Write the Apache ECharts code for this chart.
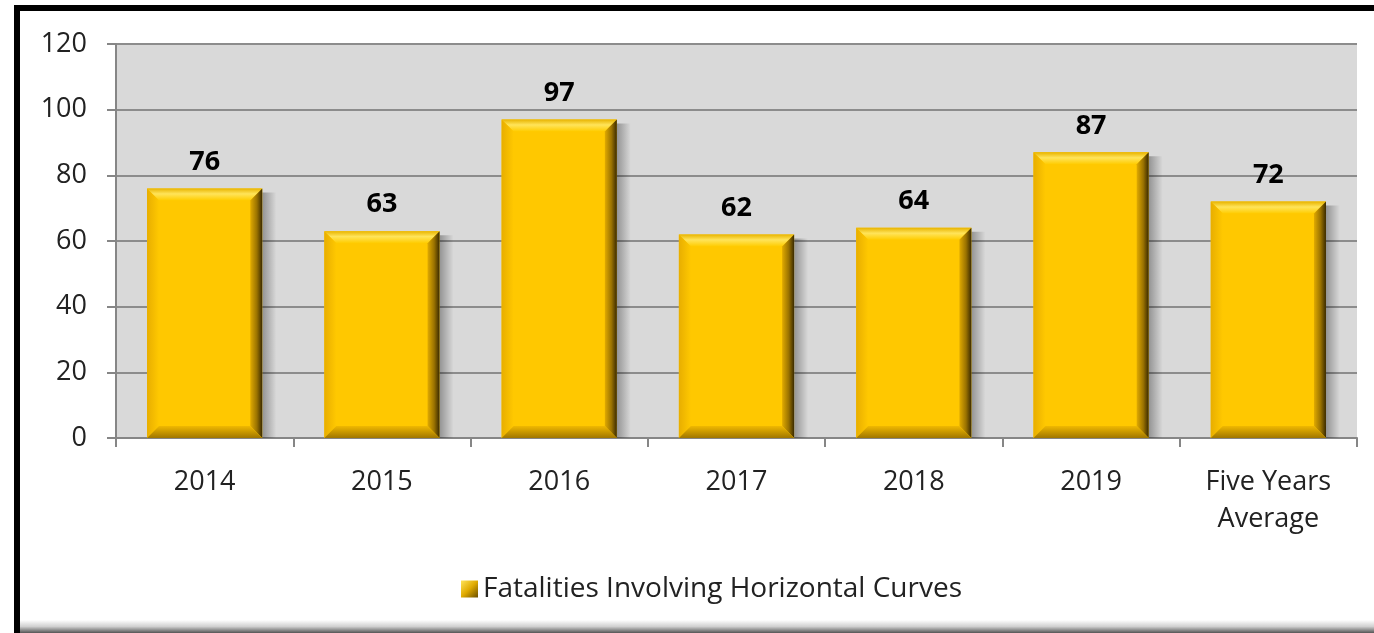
<!DOCTYPE html>
<html>
<head>
<meta charset="utf-8">
<script src="https://cdn.jsdelivr.net/npm/echarts@6/dist/echarts.min.js"></script>
<style>
    html, body { margin: 0; padding: 0; background: #fff; overflow: hidden; }
    #chart { position: absolute; left: 0; top: 0; width: 1374px; height: 633px; }
    #frame {
        position: absolute; left: 14px; top: 5px; width: 1400px; height: 700px;
        border-left: 6px solid #000; border-top: 6px solid #000;
        pointer-events: none;
    }
    #frameBottom {
        position: absolute; left: 20px; top: 620px; width: 1360px; height: 13px;
        background: linear-gradient(#ffffff, #d0d0d0 50%, #555 100%);
        pointer-events: none;
    }
</style>
</head>
<body>
<div id="chart"></div>
<div id="frameBottom"></div>
<div id="frame"></div>
<script>
    // data
    var categories = ['2014', '2015', '2016', '2017', '2018', '2019', 'Five Years\nAverage'];
    var fatalities = [76, 63, 97, 62, 64, 87, 72];
    var seriesName = 'Fatalities Involving Horizontal Curves';

    var font = '"Open Sans", sans-serif';

    function lin(x2, y2, stops) {
        return {
            type: 'linear', x: 0, y: 0, x2: x2, y2: y2,
            colorStops: stops.map(function (s) { return { offset: s[0], color: s[1] }; })
        };
    }

    // bevelled bar, positioned through the axes
    function renderBar(params, api) {
        var base = api.coord([api.value(0), 0]);
        var top = api.coord([api.value(0), api.value(1)]);
        var w = api.size([1, 0])[0] * 0.65;
        var x = top[0] - w / 2, y = top[1], h = base[1] - top[1];
        var b = 12;
        return {
            type: 'group',
            children: [
                {
                    type: 'rect',
                    shape: { x: x + w, y: y + 4, width: 14, height: h - 4 },
                    style: { fill: lin(1, 0, [[0, 'rgba(0,0,0,0.32)'], [1, 'rgba(0,0,0,0)']]) }
                },
                {
                    type: 'rect',
                    shape: { x: x, y: y, width: w, height: h },
                    style: { fill: '#ffc800' }
                },
                {
                    type: 'polygon',
                    shape: { points: [[x, y], [x + w, y], [x + w - b, y + b], [x + b, y + b]] },
                    style: { fill: lin(0, 1, [[0, '#e8b400'], [0.45, '#ffe45a'], [1, '#ffcc00']]) }
                },
                {
                    type: 'polygon',
                    shape: { points: [[x, y], [x + b, y + b], [x + b, y + h - b], [x, y + h]] },
                    style: { fill: lin(1, 0, [[0, '#e8ae00'], [1, '#ffc800']]) }
                },
                {
                    type: 'polygon',
                    shape: { points: [[x + w, y], [x + w, y + h], [x + w - b, y + h - b], [x + w - b, y + b]] },
                    style: { fill: lin(1, 0, [[0, '#e0aa00'], [0.55, '#9a7200'], [1, '#3a2a00']]) }
                },
                {
                    type: 'polygon',
                    shape: { points: [[x, y + h], [x + w, y + h], [x + w - b, y + h - b], [x + b, y + h - b]] },
                    style: { fill: lin(0, 1, [[0, '#f0b800'], [1, '#a07600']]) }
                },
                {
                    type: 'text',
                    style: {
                        x: top[0], y: y - 13,
                        text: String(api.value(1)),
                        align: 'center', verticalAlign: 'bottom',
                        font: 'bold 27px ' + font, fill: '#000'
                    }
                }
            ]
        };
    }

    var myChart = echarts.init(document.getElementById('chart'));
    var option = {
        backgroundColor: '#fff',
        animation: false,
        grid: {
            left: 116, top: 44, right: 17, bottom: 195,
            show: true, backgroundColor: '#d9d9d9', borderWidth: 0
        },
        legend: {
            left: 456, top: 570,
            itemWidth: 17, itemHeight: 17, itemGap: 8,
            icon: 'rect',
            textStyle: { fontFamily: font, fontSize: 28, color: '#222' },
            data: [seriesName]
        },
        xAxis: {
            type: 'category',
            data: categories,
            boundaryGap: true,
            axisLine: { lineStyle: { color: '#868686', width: 2 } },
            axisTick: { show: true, length: 9, lineStyle: { color: '#868686', width: 2 } },
            axisLabel: {
                fontFamily: font, fontSize: 27, color: '#222',
                margin: 26, lineHeight: 37, interval: 0
            }
        },
        yAxis: {
            type: 'value',
            min: 0, max: 120, interval: 20,
            axisLine: { show: true, lineStyle: { color: '#868686', width: 2 } },
            axisTick: { show: true, length: 9, lineStyle: { color: '#868686', width: 2 } },
            axisLabel: { fontFamily: font, fontSize: 27, color: '#222', margin: 29 },
            splitLine: { lineStyle: { color: '#8c8c8c', width: 2 } }
        },
        series: [{
            name: seriesName,
            type: 'custom',
            renderItem: renderBar,
            itemStyle: { color: lin(1, 1, [[0, '#ffe45a'], [0.5, '#e0aa00'], [1, '#6a4e00']]) },
            encode: { x: 0, y: 1 },
            data: fatalities.map(function (v, i) { return [i, v]; })
        }]
    };
    myChart.setOption(option);
</script>
</body>
</html>
